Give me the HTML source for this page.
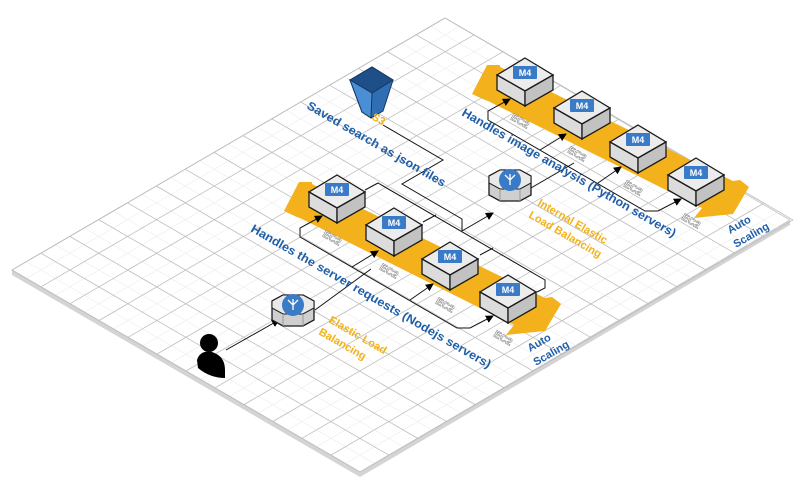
<!DOCTYPE html>
<html><head><meta charset="utf-8"><style>
html,body{margin:0;padding:0;background:#fff;}
svg{display:block;}
text{font-family:"Liberation Sans",sans-serif;font-weight:bold;}
</style></head><body>
<svg width="795" height="483" viewBox="0 0 795 483" xmlns="http://www.w3.org/2000/svg">
<defs>
<marker id="ah" markerWidth="8" markerHeight="8" refX="7" refY="4" orient="auto" markerUnits="userSpaceOnUse">
<path d="M0,0 L8,4 L0,8 z" fill="#000"/></marker>
<g id="cube">
<polygon points="0,0 28,17 0,33 -28,17" fill="#ececec" stroke="#1a1a1a" stroke-width="1.3"/>
<polygon points="-28,17 0,33 0,48 -28,32" fill="#dcdcdc" stroke="#1a1a1a" stroke-width="1.3"/>
<polygon points="0,33 28,17 28,32 0,48" fill="#c2c2c2" stroke="#1a1a1a" stroke-width="1.3"/>
<rect x="-12" y="8" width="24" height="13" rx="1" fill="#3a7bc8"/>
<text x="0" y="18" font-size="9" fill="#fff" text-anchor="middle" font-weight="normal">M4</text>
</g>
<g id="elb">
<polygon points="-21,-6 -10,-12 10,-12 21,-6 21,13 10,19 -10,19 -21,13" fill="#cfcfcf" stroke="#1a1a1a" stroke-width="1.3"/>
<polygon points="-21,-6 -10,-12 10,-12 21,-6 21,1 10,7 -10,7 -21,1" fill="#e9e9e9" stroke="#1a1a1a" stroke-width="1"/>
<line x1="-10" y1="7" x2="-10" y2="19" stroke="#999"/><line x1="10" y1="7" x2="10" y2="19" stroke="#999"/>
<circle cx="0" cy="-2" r="11" fill="#3a7bc8"/>
<path d="M0,3 L0,-2 M0,-2 L-5,-7 M0,-2 L5,-7 M0,-2 L0,-8" stroke="#fff" stroke-width="1.3" fill="none"/>
</g>
<g id="grp">
<polygon points="284,211 299,182 312,182 312,184 545,298 552,297 561,304 545,331 506,335 514,325 300,218 297,217" fill="#f3b21b"/>
<g fill="none" stroke="#111" stroke-width="1">
<polyline points="300,237 300,228 322,216" marker-end="url(#ah)"/>
<polyline points="300,237 457,328 470,328 493,316" marker-end="url(#ah)"/>
<line x1="352" y1="267" x2="378" y2="251" marker-end="url(#ah)"/>
<line x1="410" y1="300" x2="433" y2="284" marker-end="url(#ah)"/>
</g>
<use href="#cube" x="337" y="175"/>
<use href="#cube" x="394" y="208"/>
<use href="#cube" x="450" y="242"/>
<use href="#cube" x="508" y="275"/>
<g font-size="10" fill="#fff" stroke="#888" stroke-width="0.6" font-weight="normal">
<text transform="translate(322,236) rotate(30)">EC2</text>
<text transform="translate(379,269) rotate(30)">EC2</text>
<text transform="translate(435,303) rotate(30)">EC2</text>
<text transform="translate(493,336) rotate(30)">EC2</text>
</g>
</g>
</defs>

<!-- platform -->
<polygon points="12,270 360,472 790,220 790,225 360,477 12,275" fill="#d4d4d4"/>
<polygon points="12,270 445,18 790,220 360,472" fill="#fff" stroke="#c8c8c8" stroke-width="1"/>
<g transform="matrix(28.87,-16.8,29,16.83,12,270)" fill="none">
<path stroke="#ececec" stroke-width="0.6" vector-effect="non-scaling-stroke" d="M0.5,0V12M1.5,0V12M2.5,0V12M3.5,0V12M4.5,0V12M5.5,0V12M6.5,0V12M7.5,0V12M8.5,0V12M9.5,0V12M10.5,0V12M11.5,0V12M12.5,0V12M13.5,0V12M14.5,0V12M0,0.5H15M0,1.5H15M0,2.5H15M0,3.5H15M0,4.5H15M0,5.5H15M0,6.5H15M0,7.5H15M0,8.5H15M0,9.5H15M0,10.5H15M0,11.5H15"/>
<path stroke="#bdbdbd" stroke-width="0.8" vector-effect="non-scaling-stroke" d="M0,0V12M1,0V12M2,0V12M3,0V12M4,0V12M5,0V12M6,0V12M7,0V12M8,0V12M9,0V12M10,0V12M11,0V12M12,0V12M13,0V12M14,0V12M15,0V12M0,0H15M0,1H15M0,2H15M0,3H15M0,4H15M0,5H15M0,6H15M0,7H15M0,8H15M0,9H15M0,10H15M0,11H15M0,12H15"/>
</g>

<!-- connectors -->
<g fill="none" stroke="#111" stroke-width="1">
<line x1="226" y1="350" x2="279" y2="320" marker-end="url(#ah)"/>
<line x1="315" y1="310" x2="371" y2="269"/>
<polyline points="383,125 443,160 402,184 462,219 462,231"/>
<polyline points="365,190 378,183 545,280 545,288 537,292"/>
<line x1="423" y1="222" x2="436" y2="215"/>
<line x1="480" y1="255" x2="493" y2="248"/>
<line x1="462" y1="231" x2="493" y2="213" marker-end="url(#ah)"/>
<line x1="531" y1="188" x2="574" y2="163"/>
</g>

<use href="#grp"/>
<use href="#grp" transform="translate(188,-117)"/>

<!-- S3 -->
<polygon points="350,80 372,67 393,80 383,111 371,118 362,112" fill="#2f6eb3" stroke="#17365e" stroke-width="1"/>
<polygon points="350,80 372,67 393,80 372,93" fill="#1f4f88" stroke="#17365e" stroke-width="1"/>
<polygon points="350,80 372,93 371,118 362,112" fill="#4a8ed6" stroke="#17365e" stroke-width="1"/>

<use href="#elb" x="293" y="307"/>
<use href="#elb" x="510" y="182"/>

<!-- person -->
<circle cx="209" cy="343" r="9" fill="#000"/>
<path d="M197,360 Q200,350 212,352 Q225,356 225,370 L225,378 Q210,378 198,368 Z" fill="#000"/>

<!-- labels -->
<g fill="#1f5ea8">
<text transform="translate(306,108) rotate(30)" font-size="12" textLength="158" lengthAdjust="spacingAndGlyphs">Saved search as json files</text>
<text transform="translate(461,115) rotate(30)" font-size="12" textLength="245" lengthAdjust="spacingAndGlyphs">Handles image analysis (Python servers)</text>
<text transform="translate(250,231) rotate(30)" font-size="12" textLength="275" lengthAdjust="spacingAndGlyphs">Handles the server requests (Nodejs servers)</text>
<text transform="translate(530,352) rotate(-30)" font-size="11">Auto</text>
<text transform="translate(536,366) rotate(-30)" font-size="11">Scaling</text>
<text transform="translate(730,234) rotate(-30)" font-size="11">Auto</text>
<text transform="translate(736,248) rotate(-30)" font-size="11">Scaling</text>
</g>
<g fill="#f3b21b" font-size="11">
<text transform="translate(371,119) rotate(30)">S3</text>
<text transform="translate(328,322) rotate(30)">Elastic Load</text>
<text transform="translate(318,334) rotate(30)">Balancing</text>
<text transform="translate(537,205) rotate(30)">Internal Elastic</text>
<text transform="translate(528,217) rotate(30)">Load Balancing</text>
</g>
</svg>
</body></html>
